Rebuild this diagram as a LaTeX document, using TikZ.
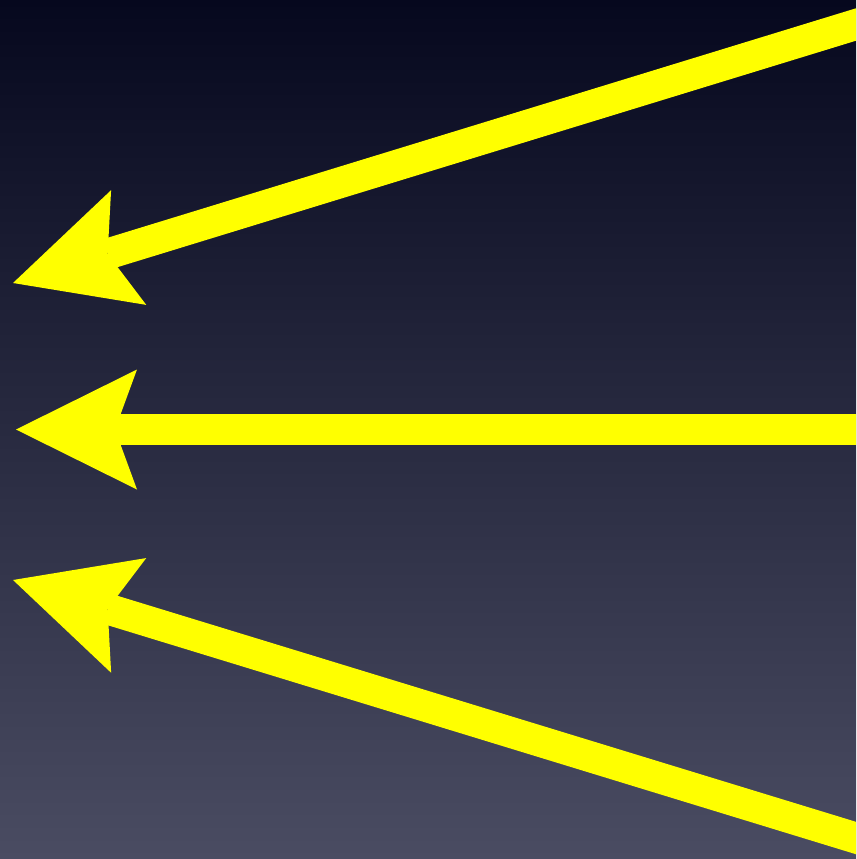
\documentclass[tikz,border=0pt]{standalone}
\usetikzlibrary{arrows.meta}
\definecolor{skytop}{RGB}{6,8,30}
\definecolor{skymid}{RGB}{38,40,66}
\definecolor{skybot}{RGB}{74,76,98}
\definecolor{signyellow}{RGB}{255,255,0}
\tikzset{bigarrow/.style={signyellow,line width=0.93cm,
  -{Stealth[length=3.63cm,width=3.6cm,inset=0.66cm,line width=0pt]}}}

\begin{document}
\begin{tikzpicture}[x=0.03cm,y=-0.03cm]
\shade[top color=skytop,middle color=skymid,bottom color=skybot] (0,0) rectangle (856,859);
\useasboundingbox (0,0) rectangle (856,859);
\clip (0,0) rectangle (856,859);
% three arrows pointing left
\coordinate (tipA) at (13,283);   \coordinate (tailA) at (900,11);
\coordinate (tipB) at (16,429.5); \coordinate (tailB) at (900,429.5);
\coordinate (tipC) at (13,580);   \coordinate (tailC) at (900,851.5);
\draw[bigarrow] (tailA) -- (tipA);
\draw[bigarrow] (tailB) -- (tipB);
\draw[bigarrow] (tailC) -- (tipC);
\end{tikzpicture}
\end{document}
